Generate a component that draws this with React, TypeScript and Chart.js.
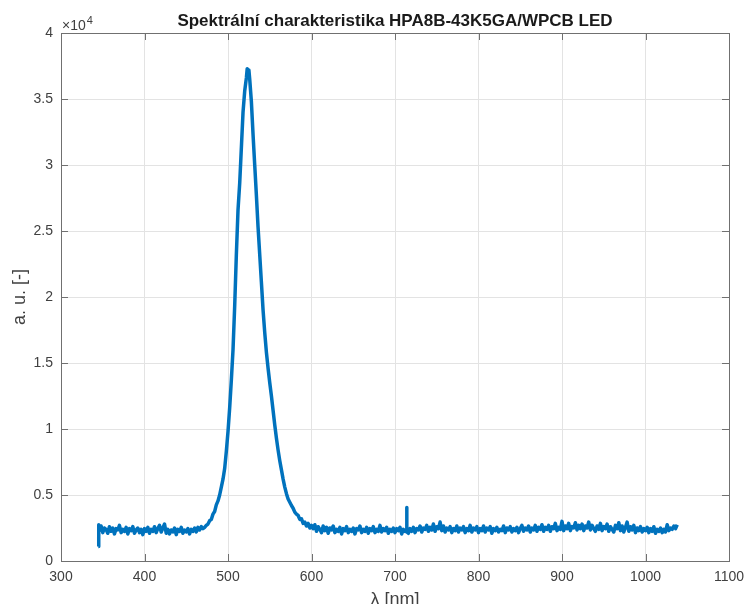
import { useEffect, useRef } from "react";
import { Chart, registerables } from "chart.js";

Chart.register(...registerables);

const TITLE = "Spektrální charakteristika HPA8B-43K5GA/WPCB LED";
const X_LABEL = "λ [nm]";
const Y_LABEL = "a. u. [-]";
const EXPONENT = "4";

const xTicks = [300, 400, 500, 600, 700, 800, 900, 1000, 1100];
const yTicks = [0, 5000, 10000, 15000, 20000, 25000, 30000, 35000, 40000];
const yTickLabels = ["0", "0.5", "1", "1.5", "2", "2.5", "3", "3.5", "4"];

const leftBaseWl = [
  344.7, 345.2,
  346, 348, 350, 352, 354, 356, 358, 360, 362, 364,
  366, 368, 370, 372, 374, 376, 378, 380, 382, 384,
  386, 388, 390, 392, 394, 396, 398, 400, 402, 404,
  406, 408, 410, 412, 414, 416, 418, 420, 422, 424,
  426, 428, 430, 432, 434, 436, 438, 440, 442, 444,
  446, 448, 450, 452, 454, 456, 458, 460, 462, 464,
  466, 468, 470,
];
const leftBaseVal = [
  1100, 2750,
  2300, 2650, 2150, 2500, 2400, 2100, 2600, 2250, 2500, 2050,
  2450, 2350, 2700, 2150, 2400, 2250, 2550, 2050, 2450, 2300,
  2600, 2100, 2350, 2500, 2150, 2400, 2000, 2450, 2250, 2550,
  2100, 2400, 2250, 2600, 2150, 2450, 2700, 2200, 2500, 2800,
  2100, 2400, 2050, 2350, 2200, 2500, 2000, 2400, 2250, 2550,
  2100, 2350, 2200, 2450, 2050, 2400, 2250, 2500, 2200, 2550,
  2350, 2600, 2450,
];

const peakWl = [
  472, 474, 476, 478, 480, 482, 484, 486, 488, 490, 492, 494, 496, 498, 500, 502, 504, 506, 508, 510,
  512, 514, 516, 518, 520, 522, 523, 524, 525, 526, 528, 530, 532, 534, 536, 538, 540, 542, 544, 546,
  548, 550, 552, 554, 556, 558, 560, 562, 564, 566, 568, 570, 572, 574, 576, 578, 580, 582, 584, 586,
  588, 590, 592, 594, 596, 598, 600,
];
const peakVal = [
  2550, 2700, 2800, 3050, 3150, 3550, 3750, 4250, 4550, 5000, 5600, 6200, 7000, 8300, 9800, 11600, 13700, 16000, 19300, 23200,
  26600, 28600, 31300, 34000, 35600, 36600, 37300, 36700, 37200, 36500, 34800, 32300, 30000, 27700, 25300, 23200, 21100, 19000, 17300, 15800,
  14600, 13500, 12500, 11400, 10300, 9300, 8400, 7600, 6900, 6200, 5600, 5100, 4700, 4450, 4200, 4000, 3700, 3550, 3450, 3150,
  3200, 2850, 2950, 2650, 2850, 2500, 2700,
];

const rightBaseWl = [
  602, 604, 606, 608, 610, 612, 614, 616, 618, 620,
  622, 624, 626, 628, 630, 632, 634, 636, 638, 640,
  642, 644, 646, 648, 650, 652, 654, 656, 658, 660,
  662, 664, 666, 668, 670, 672, 674, 676, 678, 680,
  682, 684, 686, 688, 690, 692, 694, 696, 698, 700,
  702, 704, 706, 708, 710, 712, 713.7, 714, 714.3, 716, 718, 720,
  722, 724, 726, 728, 730, 732, 734, 736, 738, 740,
  742, 744, 746, 748, 750, 752, 754, 756, 758, 760,
  762, 764, 766, 768, 770, 772, 774, 776, 778, 780,
  782, 784, 786, 788, 790, 792, 794, 796, 798, 800,
  802, 804, 806, 808, 810, 812, 814, 816, 818, 820,
  822, 824, 826, 828, 830, 832, 834, 836, 838, 840,
  842, 844, 846, 848, 850, 852, 854, 856, 858, 860,
  862, 864, 866, 868, 870, 872, 874, 876, 878, 880,
  882, 884, 886, 888, 890, 892, 894, 896, 898, 900,
  902, 904, 906, 908, 910, 912, 914, 916, 918, 920,
  922, 924, 926, 928, 930, 932, 934, 936, 938, 940,
  942, 944, 946, 948, 950, 952, 954, 956, 958, 960,
  962, 964, 966, 968, 970, 972, 974, 976, 978, 980,
  982, 984, 986, 988, 990, 992, 994, 996, 998, 1000,
  1002, 1004, 1006, 1008, 1010, 1012, 1014, 1016, 1018, 1020,
  1022, 1024, 1026, 1028, 1030, 1032, 1034, 1036, 1038,
];
const rightBaseVal = [
  2450, 2750, 2250, 2600, 2400, 2150, 2650, 2300, 2550, 2100,
  2500, 2350, 2650, 2150, 2400, 2250, 2550, 2050, 2450, 2300,
  2600, 2150, 2400, 2250, 2500, 2050, 2450, 2350, 2650, 2150,
  2400, 2250, 2550, 2100, 2450, 2300, 2600, 2150, 2400, 2250,
  2700, 2200, 2450, 2300, 2550, 2100, 2400, 2250, 2500, 2150,
  2450, 2300, 2550, 2050, 2400, 2250, 2350, 4050, 2200, 2100, 2450, 2250,
  2550, 2150, 2450, 2350, 2650, 2200, 2500, 2400, 2700, 2250,
  2550, 2350, 2800, 2250, 2600, 2450, 2950, 2300, 2650, 2200,
  2500, 2350, 2600, 2150, 2450, 2300, 2650, 2200, 2500, 2350,
  2600, 2150, 2450, 2300, 2700, 2200, 2500, 2350, 2600, 2150,
  2450, 2300, 2650, 2200, 2500, 2350, 2600, 2100, 2450, 2300,
  2550, 2200, 2400, 2300, 2650, 2150, 2500, 2350, 2600, 2200,
  2450, 2300, 2550, 2150, 2450, 2700, 2250, 2500, 2350, 2650,
  2200, 2500, 2350, 2700, 2250, 2550, 2400, 2750, 2250, 2550,
  2400, 2700, 2250, 2600, 2450, 2850, 2300, 2550, 2400, 3000,
  2300, 2650, 2450, 2850, 2300, 2600, 2500, 2900, 2350, 2700,
  2450, 2800, 2300, 2650, 2500, 2950, 2350, 2700, 2450, 2250,
  2650, 2400, 2850, 2300, 2600, 2450, 2800, 2250, 2600, 2400,
  2200, 2700, 2450, 2900, 2300, 2650, 2200, 2550, 2950, 2250,
  2600, 2350, 2700, 2150, 2500, 2300, 2600, 2200, 2450, 2300,
  2550, 2150, 2450, 2250, 2600, 2100, 2400, 2250, 2500, 2150,
  2400, 2200, 2750, 2300, 2500, 2400, 2650, 2450, 2750,
];

const FONT = "'Liberation Sans', Arial, Helvetica, sans-serif";
const LINE_COLOR = "#0072BD";
const AXIS_COLOR = "#707070";
const GRID_COLOR = "#e3e3e3";
const TEXT_COLOR = "#404040";

const wavelengths = [...leftBaseWl, ...peakWl, ...rightBaseWl];
const intensities = [...leftBaseVal, ...peakVal, ...rightBaseVal];

const matlabAxesPlugin = {
  id: "matlabAxes",
  beforeDatasetsDraw(chart: any) {
    const { ctx, chartArea } = chart;
    const { left, right, top, bottom } = chartArea;
    const xs = chart.scales.x;
    const ys = chart.scales.y;
    const tl = 7;
    ctx.save();
    ctx.strokeStyle = AXIS_COLOR;
    ctx.lineWidth = 1;
    ctx.beginPath();
    xTicks.forEach((t) => {
      const px = Math.round(xs.getPixelForValue(t)) + 0.5;
      ctx.moveTo(px, bottom);
      ctx.lineTo(px, bottom - tl);
      ctx.moveTo(px, top);
      ctx.lineTo(px, top + tl);
    });
    yTicks.forEach((t) => {
      const py = Math.round(ys.getPixelForValue(t)) + 0.5;
      ctx.moveTo(left, py);
      ctx.lineTo(left + tl, py);
      ctx.moveTo(right, py);
      ctx.lineTo(right - tl, py);
    });
    ctx.stroke();
    ctx.strokeRect(Math.round(left) + 0.5, Math.round(top) + 0.5, Math.round(right - left), Math.round(bottom - top));
    ctx.restore();
  },
  afterDraw(chart: any) {
    const { ctx, chartArea } = chart;
    const { left, right, top, bottom } = chartArea;
    const cx = (left + right) / 2;
    const cy = (top + bottom) / 2;
    ctx.save();
    // title
    ctx.fillStyle = "#1a1a1a";
    ctx.font = `bold 17px ${FONT}`;
    ctx.textAlign = "center";
    ctx.textBaseline = "alphabetic";
    ctx.fillText(TITLE, cx, top - 7);
    // x label
    ctx.fillStyle = TEXT_COLOR;
    ctx.font = `18px ${FONT}`;
    ctx.fillText(X_LABEL, cx, bottom + 44);
    // y label
    ctx.save();
    ctx.translate(left - 41, cy);
    ctx.rotate(-Math.PI / 2);
    ctx.textBaseline = "middle";
    ctx.fillText(Y_LABEL, 0, 0);
    ctx.restore();
    // exponent
    ctx.textAlign = "left";
    ctx.font = `14px ${FONT}`;
    const base = "×10";
    ctx.fillText(base, left + 1, top - 3);
    const w = ctx.measureText(base).width;
    ctx.font = `11px ${FONT}`;
    ctx.fillText(EXPONENT, left + 2 + w, top - 9);
    ctx.restore();
  },
};

export default function App() {
  const canvasRef = useRef<HTMLCanvasElement | null>(null);

  useEffect(() => {
    document.body.style.margin = "0";
    const canvas = canvasRef.current;
    if (!canvas) return;
    const chart = new Chart(canvas, {
      type: "line",
      data: {
        datasets: [
          {
            data: wavelengths.map((x, i) => ({ x, y: intensities[i] })),
            borderColor: LINE_COLOR,
            backgroundColor: LINE_COLOR,
            borderWidth: 3.5,
            pointRadius: 0,
            tension: 0,
            fill: false,
            borderJoinStyle: "round",
          },
        ],
      },
      options: {
        responsive: false,
        animation: false,
        layout: { padding: { left: 0, right: 15, top: 33, bottom: 0 } },
        plugins: {
          legend: { display: false },
          title: { display: false },
          tooltip: { enabled: false },
        },
        scales: {
          x: {
            type: "linear",
            min: 300,
            max: 1100,
            afterFit: (s: any) => {
              s.height = 43;
              s.paddingLeft = 0;
              s.paddingRight = 0;
            },
            afterBuildTicks: (s: any) => {
              s.ticks = xTicks.map((v) => ({ value: v }));
            },
            ticks: {
              autoSkip: false,
              maxRotation: 0,
              padding: 8,
              color: TEXT_COLOR,
              font: { family: FONT, size: 14 },
              callback: (v: any) => String(v),
            },
            grid: { color: GRID_COLOR, drawTicks: false, lineWidth: 1 },
            border: { display: false },
          },
          y: {
            type: "linear",
            min: 0,
            max: 40000,
            afterFit: (s: any) => {
              s.width = 61;
              s.paddingTop = 0;
              s.paddingBottom = 0;
            },
            afterBuildTicks: (s: any) => {
              s.ticks = yTicks.map((v) => ({ value: v }));
            },
            ticks: {
              autoSkip: false,
              padding: 8,
              color: TEXT_COLOR,
              font: { family: FONT, size: 14 },
              callback: (v: any) => {
                const i = yTicks.indexOf(Number(v));
                return i >= 0 ? yTickLabels[i] : "";
              },
            },
            grid: { color: GRID_COLOR, drawTicks: false, lineWidth: 1 },
            border: { display: false },
          },
        },
      } as any,
      plugins: [matlabAxesPlugin],
    });
    return () => chart.destroy();
  }, []);

  return (
    <div style={{ width: 744, height: 604, background: "#fff" }}>
      <canvas ref={canvasRef} width={744} height={604} style={{ display: "block" }} />
    </div>
  );
}
